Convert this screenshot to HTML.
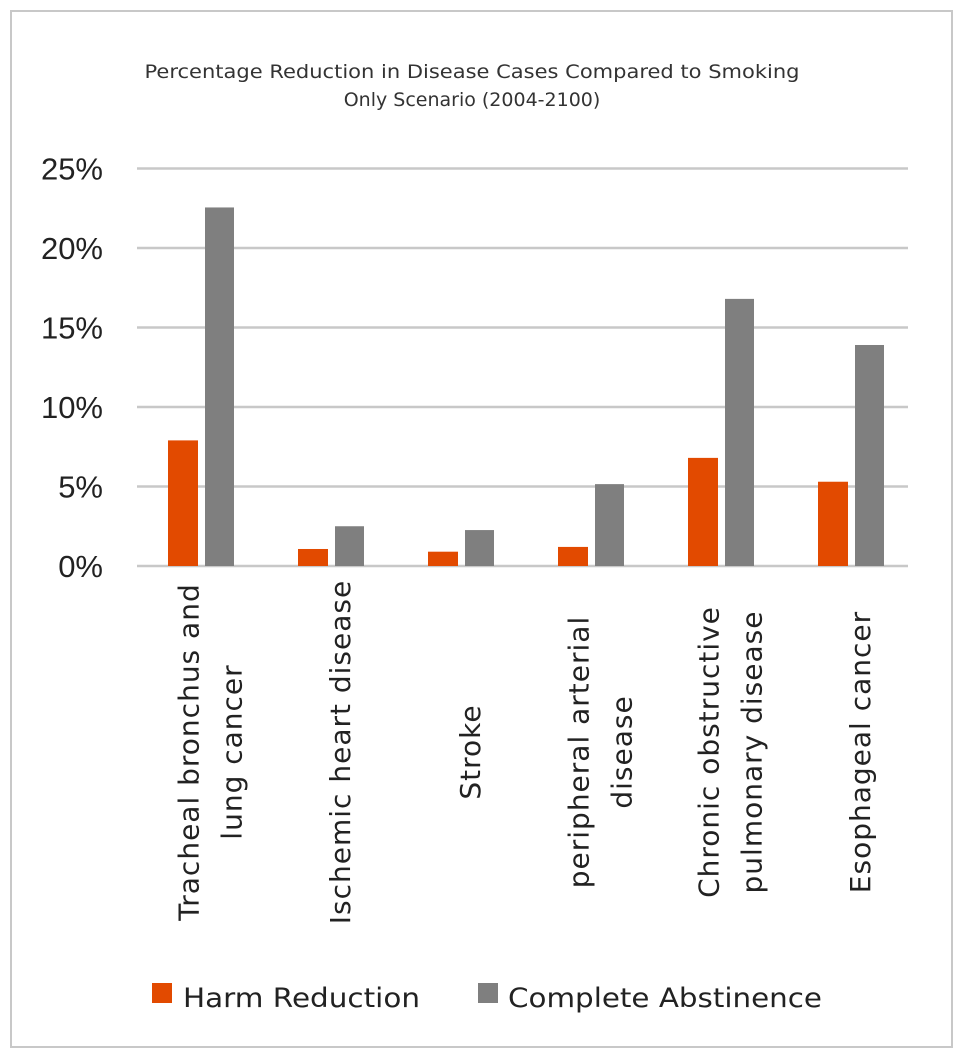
<!DOCTYPE html>
<html><head><meta charset="utf-8"><style>
html,body{margin:0;padding:0;background:#fff;}
svg{display:block;font-family:"DejaVu Sans","Liberation Sans",sans-serif;}
</style></head><body>
<svg id="chart" width="963" height="1058" viewBox="0 0 963 1058">
<rect x="11" y="11" width="941" height="1036" fill="#fff" stroke="#c8c8c8" stroke-width="2"/>
<text x="472" y="78" text-anchor="middle" font-size="19" fill="#333" textLength="655" lengthAdjust="spacingAndGlyphs">Percentage Reduction in Disease Cases Compared to Smoking</text>
<text x="472" y="106" text-anchor="middle" font-size="19" fill="#333">Only Scenario (2004-2100)</text>
<g id="grid"></g><g id="bars"></g><g id="xlabels"></g>
<rect x="152" y="983" width="20" height="20" fill="#e24a00"/>
<text x="183" y="1007" font-size="27" fill="#222" textLength="237" lengthAdjust="spacingAndGlyphs">Harm Reduction</text>
<rect x="478" y="983" width="20" height="20" fill="#7f7f7f"/>
<text x="508" y="1007" font-size="27" fill="#222" textLength="314" lengthAdjust="spacingAndGlyphs">Complete Abstinence</text>
</svg>
<script>
const categories=[["Tracheal bronchus and","lung cancer"],["Ischemic heart disease"],["Stroke"],["peripheral arterial","disease"],["Chronic obstructive","pulmonary disease"],["Esophageal cancer"]];
const harmReduction=[7.9,1.07,0.9,1.2,6.8,5.3];
const completeAbstinence=[22.55,2.5,2.26,5.15,16.8,13.9];
const yTicks=[0,5,10,15,20,25];
const tickLabels=["0%","5%","10%","15%","20%","25%"];

const NS="http://www.w3.org/2000/svg";
const x0=128,x1=908,y0=566,yTop=168.5,yMax=25;
const y=v=>y0-(v/yMax)*(y0-yTop);
const band=(x1-x0)/categories.length;
const xc=i=>x0+band*(i+0.5);
function mk(tag,attrs,parent){const e=document.createElementNS(NS,tag);for(const k in attrs)e.setAttribute(k,attrs[k]);parent.appendChild(e);return e;}
const grid=document.getElementById('grid'),bars=document.getElementById('bars'),xl=document.getElementById('xlabels');
yTicks.forEach((t,i)=>{
  const l=mk('line',{x1:137,x2:x1,y1:y(t),y2:y(t),stroke:'#c8c8c8','stroke-width':2.5},grid);
  
  
  const tx=mk('text',{x:103,y:y(t)+11,'text-anchor':'end','font-size':31,fill:'#222','font-family':'Liberation Sans, sans-serif'},grid);
  tx.textContent=tickLabels[i];
  
  
});
const bw=30;
categories.forEach((c,i)=>{
  const cx=xc(i);
  const r1=mk('rect',{x:cx-25,y:y(harmReduction[i]),width:bw,height:y0-y(harmReduction[i]),fill:'#e24a00'},bars);
  
  
  const r2=mk('rect',{x:cx+12,y:y(completeAbstinence[i]),width:bw-1,height:y0-y(completeAbstinence[i]),fill:'#7f7f7f'},bars);
  
  
  const n=c.length,lh=43,center=cx+16;
  c.forEach((line,j)=>{
    const mid=center+(j-(n-1)/2)*lh;
    const bx=mid+11,by=752;
    const t=mk('text',{x:bx,y:by,'text-anchor':'middle','font-size':28,'letter-spacing':1,fill:'#222',transform:`rotate(-90 ${bx} ${by})`},xl);
    t.textContent=line;
    
    
  });
});
</script>
</body></html>
